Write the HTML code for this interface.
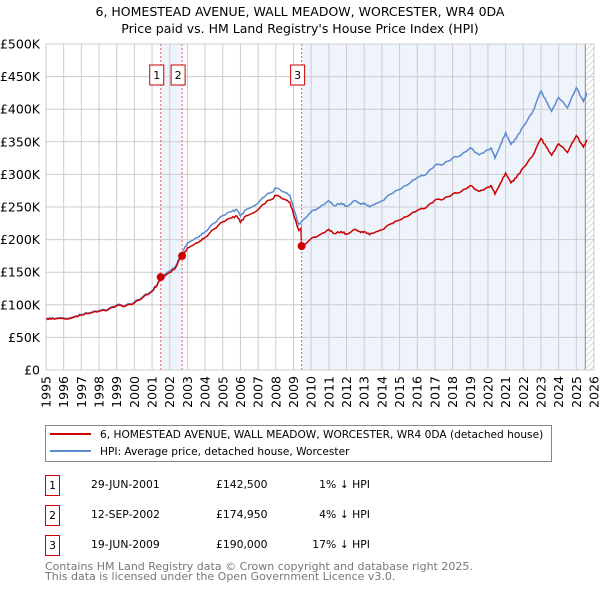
<!DOCTYPE html>
<html><head><meta charset="utf-8"><style>
body{margin:0;background:#fff;font-family:"Liberation Sans","DejaVu Sans",sans-serif;}
svg text{font-family:"DejaVu Sans","Liberation Sans",sans-serif;}
</style></head><body>
<svg id="s" width="600" height="590" xmlns="http://www.w3.org/2000/svg">
<defs><pattern id="h" width="6" height="6" patternUnits="userSpaceOnUse"><path d="M0,6 L6,0" stroke="#ccc" stroke-width="0.8"/></pattern></defs>
<text x="300" y="16" text-anchor="middle" font-size="12.5">6, HOMESTEAD AVENUE, WALL MEADOW, WORCESTER, WR4 0DA</text>
<text x="300" y="33" text-anchor="middle" font-size="12.5">Price paid vs. HM Land Registry's House Price Index (HPI)</text>
<g id="plot"></g>
<rect x="45.5" y="425.5" width="506" height="36" fill="#fff" stroke="#888"/>
<line x1="50" y1="434" x2="91" y2="434" stroke="#cc0000" stroke-width="2"/>
<line x1="50" y1="451" x2="91" y2="451" stroke="#5b8bd0" stroke-width="2"/>
<text x="100" y="438" font-size="10.6">6, HOMESTEAD AVENUE, WALL MEADOW, WORCESTER, WR4 0DA (detached house)</text>
<text x="100" y="455" font-size="10.6">HPI: Average price, detached house, Worcester</text>
<g font-size="10.8">
<rect x="45.5" y="475.5" width="14" height="20" fill="#fff" stroke="#c00"/><text x="52.5" y="489" text-anchor="middle">1</text>
<text x="91" y="488">29-JUN-2001</text><text x="216" y="488">£142,500</text><text x="370" y="488" text-anchor="end">1% ↓ HPI</text>
<rect x="45.5" y="505.5" width="14" height="20" fill="#fff" stroke="#c00"/><text x="52.5" y="519" text-anchor="middle">2</text>
<text x="91" y="518">12-SEP-2002</text><text x="216" y="518">£174,950</text><text x="370" y="518" text-anchor="end">4% ↓ HPI</text>
<rect x="45.5" y="535.5" width="14" height="20" fill="#fff" stroke="#c00"/><text x="52.5" y="549" text-anchor="middle">3</text>
<text x="91" y="548">19-JUN-2009</text><text x="216" y="548">£190,000</text><text x="370" y="548" text-anchor="end">17% ↓ HPI</text>
</g>
<text x="45" y="570" font-size="11" fill="#777">Contains HM Land Registry data © Crown copyright and database right 2025.</text>
<text x="45" y="580" font-size="11" fill="#777">This data is licensed under the Open Government Licence v3.0.</text>
</svg>
<script>
var X0=46,X1=594,Y0=370,Y1=44;
function X(y){return X0+(y-1995)*(X1-X0)/31;}
function Y(v){return Y0-v*(Y0-Y1)/500;}
var g='';
var s1=X(2001.49),s2=X(2002.7),s3=X(2009.46),xe=585.3;
g+='<rect x="'+s1+'" y="44" width="'+(s2-s1)+'" height="326" fill="#eef3fc"/>';
g+='<rect x="'+s3+'" y="44" width="'+(xe-s3)+'" height="326" fill="#eef3fc"/>';
g+='<rect x="'+xe+'" y="44" width="'+(X1-xe)+'" height="326" fill="url(#h)"/>';
for(var k=0;k<=10;k++){var y=Y(k*50);g+='<line x1="46" x2="594" y1="'+y+'" y2="'+y+'" stroke="#ccc"/>';
g+='<text x="40" y="'+(y+4.5)+'" text-anchor="end" font-size="12.5">'+(k==0?'£0':'£'+k*50+'K')+'</text>';}
for(var yr=1995;yr<=2026;yr++){var x=X(yr);g+='<line x1="'+x+'" x2="'+x+'" y1="44" y2="370" stroke="#ccc"/>';
g+='<text transform="translate('+(x+4.5)+',376) rotate(-90)" text-anchor="end" font-size="12.5">'+yr+'</text>';}
g+='<line x1="'+xe+'" x2="'+xe+'" y1="44" y2="370" stroke="#888"/>';
var H=[[1995,78],[1995.2,80],[1995.5,79],[1996.3,79],[1996.6,82],[1997,85],[1997.5,88],[1998,91],[1998.5,93],[1999,100],[1999.5,99],[2000,104],[2000.5,113],[2001,122],[2001.3,132],[2001.49,144],[2002,152],[2002.3,158],[2002.7,180],[2003,195],[2003.3,199],[2003.7,206],[2004,212],[2004.5,225],[2005,237],[2005.5,243],[2005.8,246],[2006,236],[2006.3,246],[2007,256],[2007.5,270],[2007.8,273],[2008,279],[2008.5,273],[2008.8,268],[2009.1,240],[2009.3,223],[2009.46,228],[2010,243],[2010.5,250],[2011,260],[2011.3,252],[2011.7,256],[2012,251],[2012.5,260],[2012.8,254],[2013,256],[2013.3,250],[2013.7,256],[2014,259],[2014.5,270],[2015,277],[2015.5,285],[2016,295],[2016.5,300],[2017,314],[2017.5,316],[2018,325],[2018.5,330],[2019,341],[2019.5,330],[2020,338],[2020.2,340],[2020.4,325],[2020.7,345],[2021,364],[2021.3,346],[2021.6,355],[2022,374],[2022.5,394],[2023,428],[2023.3,412],[2023.6,397],[2024,418],[2024.5,402],[2025,433],[2025.4,412],[2025.6,425]];
function ratio(t){return t<2001.49?0.99:t<2002.7?0.985:t<2009.46?0.96:0.83;}
function path(f){var p='';for(var i=0;i<H.length;i++){var t=H[i][0];var v=H[i][1]*f(t);
 if(i>0){var a=H[i-1],n=4;for(var j=1;j<n;j++){var tt=a[0]+(t-a[0])*j/n;var vv=(a[1]+(H[i][1]-a[1])*j/n)*f(tt)+1.2*Math.sin(tt*37);p+=' L'+X(tt).toFixed(1)+','+Y(vv).toFixed(1);}}
 p+=(i==0?'M':' L')+X(t).toFixed(1)+','+Y(v).toFixed(1);}return p;}
g+='<path d="'+path(function(){return 1;})+'" fill="none" stroke="#5b8bd0" stroke-width="1.5"/>';
g+='<path d="'+path(ratio)+'" fill="none" stroke="#cc0000" stroke-width="1.5"/>';
var S=[[2001.49,142.5,'1',-11],[2002.7,174.95,'2',-11],[2009.46,190,'3',-11]];
S.forEach(function(s){var x=X(s[0]);
g+='<line x1="'+x+'" x2="'+x+'" y1="44" y2="370" stroke="#e06070" stroke-dasharray="2,2" stroke-width="1"/>';
g+='<circle cx="'+x+'" cy="'+Y(s[1])+'" r="4" fill="#cc0000"/>';
g+='<rect x="'+(x+s[3])+'" y="65" width="14" height="20" fill="#fff" stroke="#c00"/>';
g+='<text x="'+(x+s[3]+7)+'" y="79" text-anchor="middle" font-size="11">'+s[2]+'</text>';});
g+='<rect x="46" y="44" width="548" height="326" fill="none" stroke="#ccc"/>';
document.getElementById('plot').innerHTML=g;
</script>
</body></html>
